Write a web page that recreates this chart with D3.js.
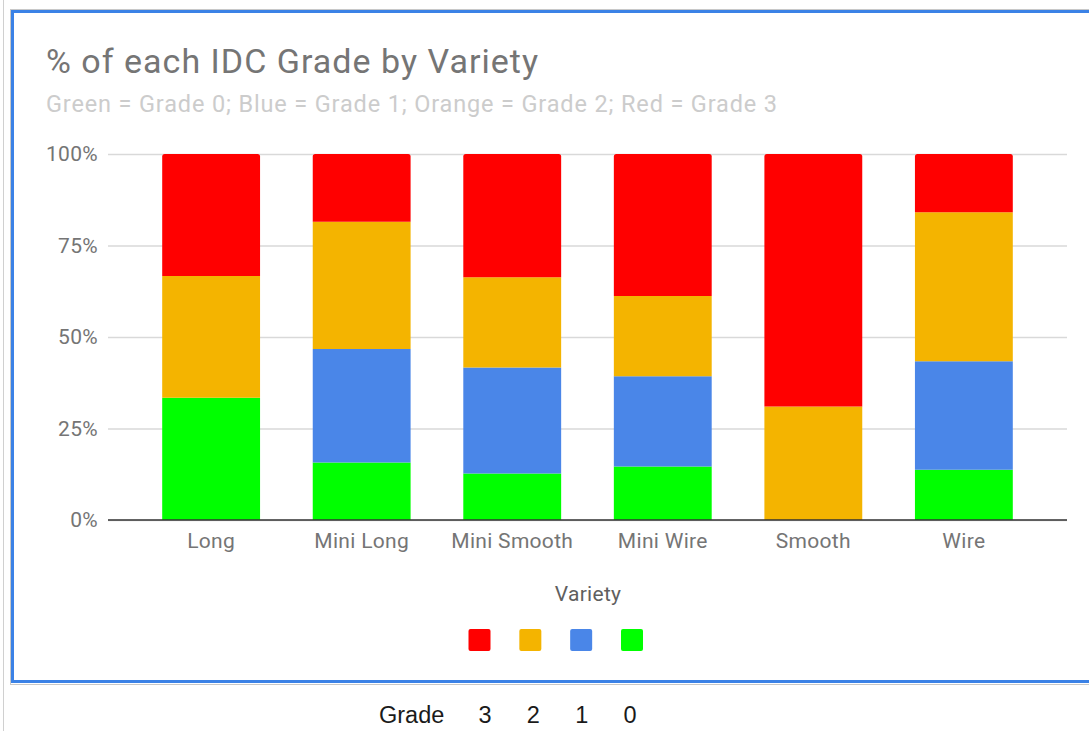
<!DOCTYPE html>
<html>
<head>
<meta charset="utf-8">
<script src="https://cdn.jsdelivr.net/npm/d3@7"></script>
<style>
  html, body { margin: 0; padding: 0; background: #fff; }
  svg { display: block; }
</style>
</head>
<body>
<svg id="chart" width="1089" height="731"></svg>
<script>
// Share of each IDC grade (percent) per variety
const categories = ["Long", "Mini Long", "Mini Smooth", "Mini Wire", "Smooth", "Wire"];
const grade0 = [33.4, 15.7, 12.7, 14.6, 0.0, 13.7];
const grade1 = [0.0, 31.0, 29.0, 24.7, 0.0, 29.7];
const grade2 = [33.3, 34.8, 24.6, 21.9, 31.0, 40.7];
const grade3 = [33.3, 18.5, 33.7, 38.8, 69.0, 15.9];
const yTicks = [0, 0.25, 0.5, 0.75, 1];
const gradeKeys = ["g0", "g1", "g2", "g3"];
const gradeColors = { g0: "#00ff00", g1: "#4a86e8", g2: "#f4b400", g3: "#ff0000" };
const legendOrder = ["g3", "g2", "g1", "g0"];
const gradeLabels = ["3", "2", "1", "0"];

const rows = categories.map((c, i) => ({
  variety: c, g0: grade0[i], g1: grade1[i], g2: grade2[i], g3: grade3[i]
}));

const svg = d3.select("#chart");
const W = 1089, H = 731;
const plot = { left: 108, right: 1067, top: 154, bottom: 520 };
const FONT = "Roboto, sans-serif";

// spreadsheet backdrop: column edge on the left
svg.append("line").attr("x1", 3.5).attr("x2", 3.5).attr("y1", 0).attr("y2", H)
  .attr("stroke", "#d0d0d0").attr("stroke-width", 1);

// chart frame (selected chart: blue outline with faint grey edge)
svg.append("rect").attr("x", 10.5).attr("y", 9.5).attr("width", W).attr("height", 675)
  .attr("fill", "none").attr("stroke", "#c8c8c8").attr("stroke-width", 1);
svg.append("rect").attr("x", 12.5).attr("y", 11.5).attr("width", W).attr("height", 670)
  .attr("fill", "#fff").attr("stroke", "#3b82e6").attr("stroke-width", 3);

// titles
svg.append("text").attr("x", 46).attr("y", 73)
  .attr("font-family", FONT).attr("font-size", 34).attr("fill", "#757575")
  .attr("textLength", 492).attr("lengthAdjust", "spacing")
  .text("% of each IDC Grade by Variety");
svg.append("text").attr("x", 46).attr("y", 112)
  .attr("font-family", FONT).attr("font-size", 23.5).attr("fill", "#cccccc")
  .attr("textLength", 731).attr("lengthAdjust", "spacing")
  .text("Green = Grade 0; Blue = Grade 1; Orange = Grade 2; Red = Grade 3");

// scales
const x = d3.scaleBand().domain(categories).range([plot.left, plot.right])
  .paddingInner(0.35).paddingOuter(0.36);
const y = d3.scaleLinear().domain([0, 1]).range([plot.bottom, plot.top]);

// gridlines + y labels
const yAxis = d3.axisLeft(y).tickValues(yTicks).tickFormat(d3.format(".0%"))
  .tickSize(-(plot.right - plot.left)).tickPadding(10);
const gy = svg.append("g").attr("transform", `translate(${plot.left},0)`).call(yAxis);
gy.select(".domain").remove();
gy.selectAll(".tick line").attr("stroke", "#d9d9d9").attr("stroke-width", 1.5);
gy.selectAll(".tick text").attr("font-family", FONT).attr("font-size", 21)
  .attr("letter-spacing", 0.3).attr("fill", "#757575").attr("dy", "0.32em");

// stacked, normalised series
const series = d3.stack().keys(gradeKeys).offset(d3.stackOffsetExpand)(rows);

// topmost non-empty segment per variety, to round its upper corners
const topKey = rows.map(r => [...gradeKeys].reverse().find(k => r[k] > 0));

function segPath(x0, x1, yTop, yBot, round) {
  const r = round ? Math.min(2.5, (yBot - yTop) / 2) : 0;
  return `M${x0},${yBot}L${x0},${yTop + r}Q${x0},${yTop} ${x0 + r},${yTop}` +
    `L${x1 - r},${yTop}Q${x1},${yTop} ${x1},${yTop + r}L${x1},${yBot}Z`;
}

const bars = svg.append("g");
series.forEach(s => {
  bars.append("g").attr("fill", gradeColors[s.key])
    .selectAll("path")
    .data(s.filter(d => d[1] - d[0] > 0))
    .join("path")
    .attr("d", d => {
      const i = categories.indexOf(d.data.variety);
      const x0 = x(d.data.variety), x1 = x0 + x.bandwidth();
      return segPath(x0, x1, y(d[1]), y(d[0]), topKey[i] === s.key);
    });
});

// baseline
svg.append("line").attr("x1", plot.left).attr("x2", plot.right)
  .attr("y1", y(0)).attr("y2", y(0)).attr("stroke", "#333").attr("stroke-width", 1.5);

// x axis labels
const xAxis = d3.axisBottom(x).tickSize(0).tickPadding(13);
const gx = svg.append("g").attr("transform", `translate(0,${plot.bottom})`).call(xAxis);
gx.select(".domain").remove();
gx.selectAll(".tick text").attr("font-family", FONT).attr("font-size", 21)
  .attr("letter-spacing", 0.3).attr("fill", "#757575");

// x axis title
svg.append("text").attr("x", 588).attr("y", 601).attr("text-anchor", "middle")
  .attr("font-family", FONT).attr("font-size", 21).attr("letter-spacing", 0.3).attr("fill", "#5f5f5f")
  .text("Variety");

// legend swatches (no labels)
const legendX = d3.scalePoint().domain(legendOrder).range([479.5, 632]);
svg.append("g").selectAll("rect").data(legendOrder).join("rect")
  .attr("x", d => legendX(d) - 11).attr("y", 629).attr("width", 22).attr("height", 22)
  .attr("rx", 2).attr("fill", d => gradeColors[d]);

// sheet cells beneath the chart
svg.append("text").attr("x", 379).attr("y", 723)
  .attr("font-family", "Liberation Sans, Arial, sans-serif").attr("font-size", 23.5).attr("fill", "#1a1a1a")
  .text("Grade");
const cellX = d3.scalePoint().domain(gradeLabels).range([485, 630]);
svg.append("g").selectAll("text").data(gradeLabels).join("text")
  .attr("x", d => cellX(d)).attr("y", 723).attr("text-anchor", "middle")
  .attr("font-family", "Liberation Sans, Arial, sans-serif").attr("font-size", 23.5).attr("fill", "#1a1a1a")
  .text(d => d);
</script>
</body>
</html>
